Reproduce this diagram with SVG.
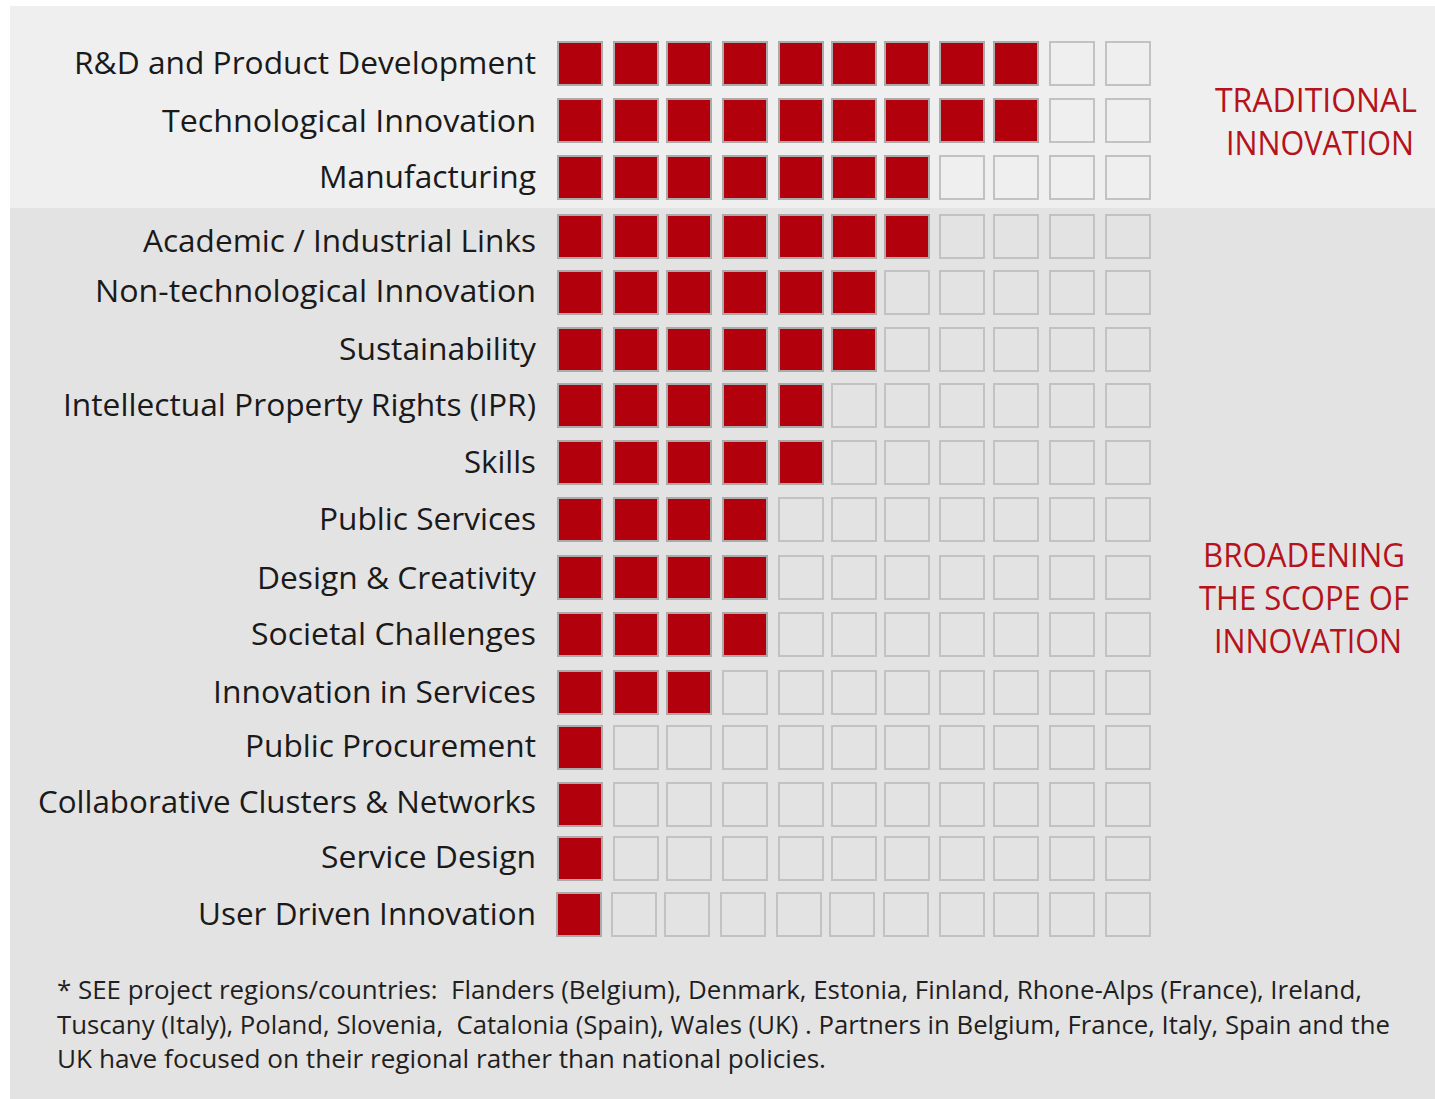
<svg xmlns="http://www.w3.org/2000/svg" width="1435" height="1099" viewBox="0 0 1435 1099">
<style>
.lbl{font-family:"Open Sans","Noto Sans",sans-serif;font-size:31px;fill:#1a1a1a;text-anchor:end}
.cat{font-family:"Open Sans","Noto Sans",sans-serif;font-size:32px;fill:#b5121b;text-anchor:middle}
.note{font-family:"Open Sans","Noto Sans",sans-serif;font-size:25px;fill:#1f1f1f}
.on{fill:#b3000d;stroke:#ababab;stroke-width:2}
.off{fill:none;stroke:#c2c2c2;stroke-width:2}
</style>
<defs>
<rect id="c1" class="on" width="44" height="43"/>
<rect id="c0" class="off" width="44" height="43"/>
</defs>
<rect x="0" y="0" width="1435" height="1099" fill="#ffffff"/>
<rect x="10" y="6" width="1425" height="202" fill="#efefef"/>
<rect x="10" y="208" width="1425" height="891" fill="#e4e3e3"/>

<g id="cat-traditional">
<text class="cat" x="1316" y="112" textLength="202" lengthAdjust="spacingAndGlyphs">TRADITIONAL</text>
<text class="cat" x="1320" y="155" textLength="188" lengthAdjust="spacingAndGlyphs">INNOVATION</text>
</g>
<g id="cat-broadening">
<text class="cat" x="1304" y="567" textLength="202" lengthAdjust="spacingAndGlyphs">BROADENING</text>
<text class="cat" x="1304" y="610" textLength="210" lengthAdjust="spacingAndGlyphs">THE SCOPE OF</text>
<text class="cat" x="1308" y="653" textLength="188" lengthAdjust="spacingAndGlyphs">INNOVATION</text>
</g>

<g id="row-rd">
<text class="lbl" x="536" y="74" textLength="462" lengthAdjust="spacingAndGlyphs">R&amp;D and Product Development</text>
<use href="#c1" x="558" y="42"/><use href="#c1" x="614" y="42"/><use href="#c1" x="667" y="42"/><use href="#c1" x="723" y="42"/><use href="#c1" x="779" y="42"/><use href="#c1" x="832" y="42"/><use href="#c1" x="885" y="42"/><use href="#c1" x="940" y="42"/><use href="#c1" x="994" y="42"/><use href="#c0" x="1050" y="42"/><use href="#c0" x="1106" y="42"/>
</g>
<g id="row-tech">
<text class="lbl" x="536" y="132" textLength="374" lengthAdjust="spacingAndGlyphs">Technological Innovation</text>
<use href="#c1" x="558" y="99"/><use href="#c1" x="614" y="99"/><use href="#c1" x="667" y="99"/><use href="#c1" x="723" y="99"/><use href="#c1" x="779" y="99"/><use href="#c1" x="832" y="99"/><use href="#c1" x="885" y="99"/><use href="#c1" x="940" y="99"/><use href="#c1" x="994" y="99"/><use href="#c0" x="1050" y="99"/><use href="#c0" x="1106" y="99"/>
</g>
<g id="row-manufacturing">
<text class="lbl" x="536" y="188" textLength="217" lengthAdjust="spacingAndGlyphs">Manufacturing</text>
<use href="#c1" x="558" y="156"/><use href="#c1" x="614" y="156"/><use href="#c1" x="667" y="156"/><use href="#c1" x="723" y="156"/><use href="#c1" x="779" y="156"/><use href="#c1" x="832" y="156"/><use href="#c1" x="885" y="156"/><use href="#c0" x="940" y="156"/><use href="#c0" x="994" y="156"/><use href="#c0" x="1050" y="156"/><use href="#c0" x="1106" y="156"/>
</g>
<g id="row-academic">
<text class="lbl" x="536" y="252" textLength="393" lengthAdjust="spacingAndGlyphs">Academic / Industrial Links</text>
<use href="#c1" x="558" y="215"/><use href="#c1" x="614" y="215"/><use href="#c1" x="667" y="215"/><use href="#c1" x="723" y="215"/><use href="#c1" x="779" y="215"/><use href="#c1" x="832" y="215"/><use href="#c1" x="885" y="215"/><use href="#c0" x="940" y="215"/><use href="#c0" x="994" y="215"/><use href="#c0" x="1050" y="215"/><use href="#c0" x="1106" y="215"/>
</g>
<g id="row-nontech">
<text class="lbl" x="536" y="302" textLength="441" lengthAdjust="spacingAndGlyphs">Non-technological Innovation</text>
<use href="#c1" x="558" y="271"/><use href="#c1" x="614" y="271"/><use href="#c1" x="667" y="271"/><use href="#c1" x="723" y="271"/><use href="#c1" x="779" y="271"/><use href="#c1" x="832" y="271"/><use href="#c0" x="885" y="271"/><use href="#c0" x="940" y="271"/><use href="#c0" x="994" y="271"/><use href="#c0" x="1050" y="271"/><use href="#c0" x="1106" y="271"/>
</g>
<g id="row-sustainability">
<text class="lbl" x="536" y="360" textLength="197" lengthAdjust="spacingAndGlyphs">Sustainability</text>
<use href="#c1" x="558" y="328"/><use href="#c1" x="614" y="328"/><use href="#c1" x="667" y="328"/><use href="#c1" x="723" y="328"/><use href="#c1" x="779" y="328"/><use href="#c1" x="832" y="328"/><use href="#c0" x="885" y="328"/><use href="#c0" x="940" y="328"/><use href="#c0" x="994" y="328"/><use href="#c0" x="1050" y="328"/><use href="#c0" x="1106" y="328"/>
</g>
<g id="row-ipr">
<text class="lbl" x="536" y="416" textLength="473" lengthAdjust="spacingAndGlyphs">Intellectual Property Rights (IPR)</text>
<use href="#c1" x="558" y="384"/><use href="#c1" x="614" y="384"/><use href="#c1" x="667" y="384"/><use href="#c1" x="723" y="384"/><use href="#c1" x="779" y="384"/><use href="#c0" x="832" y="384"/><use href="#c0" x="885" y="384"/><use href="#c0" x="940" y="384"/><use href="#c0" x="994" y="384"/><use href="#c0" x="1050" y="384"/><use href="#c0" x="1106" y="384"/>
</g>
<g id="row-skills">
<text class="lbl" x="536" y="473" textLength="72" lengthAdjust="spacingAndGlyphs">Skills</text>
<use href="#c1" x="558" y="441"/><use href="#c1" x="614" y="441"/><use href="#c1" x="667" y="441"/><use href="#c1" x="723" y="441"/><use href="#c1" x="779" y="441"/><use href="#c0" x="832" y="441"/><use href="#c0" x="885" y="441"/><use href="#c0" x="940" y="441"/><use href="#c0" x="994" y="441"/><use href="#c0" x="1050" y="441"/><use href="#c0" x="1106" y="441"/>
</g>
<g id="row-public-services">
<text class="lbl" x="536" y="530" textLength="217" lengthAdjust="spacingAndGlyphs">Public Services</text>
<use href="#c1" x="558" y="498"/><use href="#c1" x="614" y="498"/><use href="#c1" x="667" y="498"/><use href="#c1" x="723" y="498"/><use href="#c0" x="779" y="498"/><use href="#c0" x="832" y="498"/><use href="#c0" x="885" y="498"/><use href="#c0" x="940" y="498"/><use href="#c0" x="994" y="498"/><use href="#c0" x="1050" y="498"/><use href="#c0" x="1106" y="498"/>
</g>
<g id="row-design">
<text class="lbl" x="536" y="589" textLength="279" lengthAdjust="spacingAndGlyphs">Design &amp; Creativity</text>
<use href="#c1" x="558" y="556"/><use href="#c1" x="614" y="556"/><use href="#c1" x="667" y="556"/><use href="#c1" x="723" y="556"/><use href="#c0" x="779" y="556"/><use href="#c0" x="832" y="556"/><use href="#c0" x="885" y="556"/><use href="#c0" x="940" y="556"/><use href="#c0" x="994" y="556"/><use href="#c0" x="1050" y="556"/><use href="#c0" x="1106" y="556"/>
</g>
<g id="row-societal">
<text class="lbl" x="536" y="645" textLength="285" lengthAdjust="spacingAndGlyphs">Societal Challenges</text>
<use href="#c1" x="558" y="613"/><use href="#c1" x="614" y="613"/><use href="#c1" x="667" y="613"/><use href="#c1" x="723" y="613"/><use href="#c0" x="779" y="613"/><use href="#c0" x="832" y="613"/><use href="#c0" x="885" y="613"/><use href="#c0" x="940" y="613"/><use href="#c0" x="994" y="613"/><use href="#c0" x="1050" y="613"/><use href="#c0" x="1106" y="613"/>
</g>
<g id="row-innovation-services">
<text class="lbl" x="536" y="703" textLength="323" lengthAdjust="spacingAndGlyphs">Innovation in Services</text>
<use href="#c1" x="558" y="671"/><use href="#c1" x="614" y="671"/><use href="#c1" x="667" y="671"/><use href="#c0" x="723" y="671"/><use href="#c0" x="779" y="671"/><use href="#c0" x="832" y="671"/><use href="#c0" x="885" y="671"/><use href="#c0" x="940" y="671"/><use href="#c0" x="994" y="671"/><use href="#c0" x="1050" y="671"/><use href="#c0" x="1106" y="671"/>
</g>
<g id="row-procurement">
<text class="lbl" x="536" y="757" textLength="291" lengthAdjust="spacingAndGlyphs">Public Procurement</text>
<use href="#c1" x="558" y="726"/><use href="#c0" x="614" y="726"/><use href="#c0" x="667" y="726"/><use href="#c0" x="723" y="726"/><use href="#c0" x="779" y="726"/><use href="#c0" x="832" y="726"/><use href="#c0" x="885" y="726"/><use href="#c0" x="940" y="726"/><use href="#c0" x="994" y="726"/><use href="#c0" x="1050" y="726"/><use href="#c0" x="1106" y="726"/>
</g>
<g id="row-clusters">
<text class="lbl" x="536" y="813" textLength="498" lengthAdjust="spacingAndGlyphs">Collaborative Clusters &amp; Networks</text>
<use href="#c1" x="558" y="783"/><use href="#c0" x="614" y="783"/><use href="#c0" x="667" y="783"/><use href="#c0" x="723" y="783"/><use href="#c0" x="779" y="783"/><use href="#c0" x="832" y="783"/><use href="#c0" x="885" y="783"/><use href="#c0" x="940" y="783"/><use href="#c0" x="994" y="783"/><use href="#c0" x="1050" y="783"/><use href="#c0" x="1106" y="783"/>
</g>
<g id="row-service-design">
<text class="lbl" x="536" y="868" textLength="215" lengthAdjust="spacingAndGlyphs">Service Design</text>
<use href="#c1" x="558" y="837"/><use href="#c0" x="614" y="837"/><use href="#c0" x="667" y="837"/><use href="#c0" x="723" y="837"/><use href="#c0" x="779" y="837"/><use href="#c0" x="832" y="837"/><use href="#c0" x="885" y="837"/><use href="#c0" x="940" y="837"/><use href="#c0" x="994" y="837"/><use href="#c0" x="1050" y="837"/><use href="#c0" x="1106" y="837"/>
</g>
<g id="row-user-driven">
<text class="lbl" x="536" y="925" textLength="338" lengthAdjust="spacingAndGlyphs">User Driven Innovation</text>
<use href="#c1" x="557" y="893"/><use href="#c0" x="612" y="893"/><use href="#c0" x="665" y="893"/><use href="#c0" x="721" y="893"/><use href="#c0" x="777" y="893"/><use href="#c0" x="830" y="893"/><use href="#c0" x="884" y="893"/><use href="#c0" x="940" y="893"/><use href="#c0" x="994" y="893"/><use href="#c0" x="1050" y="893"/><use href="#c0" x="1106" y="893"/>
</g>

<g id="footnote">
<text class="note" x="57" y="999" xml:space="preserve" textLength="1305" lengthAdjust="spacingAndGlyphs">* SEE project regions/countries:  Flanders (Belgium), Denmark, Estonia, Finland, Rhone-Alps (France), Ireland,</text>
<text class="note" x="57" y="1034" xml:space="preserve" textLength="1333" lengthAdjust="spacingAndGlyphs">Tuscany (Italy), Poland, Slovenia,  Catalonia (Spain), Wales (UK) . Partners in Belgium, France, Italy, Spain and the</text>
<text class="note" x="57" y="1068" textLength="769" lengthAdjust="spacingAndGlyphs">UK have focused on their regional rather than national policies.</text>
</g>
</svg>
